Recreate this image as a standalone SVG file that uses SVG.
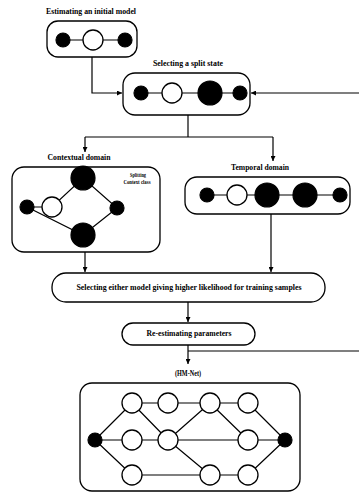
<svg xmlns="http://www.w3.org/2000/svg" width="359" height="494" viewBox="0 0 359 494">
<defs>
<style>
.box{fill:none;stroke:#000;stroke-width:1.3}
.ln{fill:none;stroke:#000;stroke-width:1.2}
.f{fill:#000;stroke:#000;stroke-width:1.2}
.o{fill:#fff;stroke:#000;stroke-width:1.3}
.t{font-family:"Liberation Serif","Times New Roman",serif;font-weight:bold;font-size:7.5px;fill:#000;text-anchor:middle}
.s{font-size:6px}
</style>
<marker id="ah" viewBox="0 0 10 10" refX="10" refY="5" markerWidth="5" markerHeight="5" orient="auto" markerUnits="userSpaceOnUse">
<path d="M0,0 L10,5 L0,10 z" fill="#000"/>
</marker>
</defs>
<rect width="359" height="494" fill="#fff"/>

<g id="connectors">
<path class="ln" d="M92,57 V93 H122" marker-end="url(#ah)"/>
<path class="ln" d="M359,93 H251" marker-end="url(#ah)"/>
<path class="ln" d="M188,115 V137"/>
<path class="ln" d="M85,137 H273"/>
<path class="ln" d="M85,137 V152" marker-end="url(#ah)"/>
<path class="ln" d="M273,137 V161" marker-end="url(#ah)"/>
<path class="ln" d="M85,252 V272" marker-end="url(#ah)"/>
<path class="ln" d="M271,214 V272" marker-end="url(#ah)"/>
<path class="ln" d="M188,302 V322" marker-end="url(#ah)"/>
<path class="ln" d="M188,345 V364" marker-end="url(#ah)"/>
<path class="ln" d="M188,351 H359"/>
</g>

<g id="initial-model">
<text class="t" x="91" y="14" textLength="90" lengthAdjust="spacingAndGlyphs">Estimating an initial model</text>
<rect class="box" x="47" y="21" width="90" height="36" rx="11"/>
<line class="ln" x1="63" y1="40" x2="125" y2="40"/>
<circle class="f" cx="63" cy="40" r="7"/>
<circle class="o" cx="93" cy="40" r="10"/>
<circle class="f" cx="125" cy="40" r="7"/>
</g>

<g id="split-state">
<text class="t" x="188" y="66" textLength="70" lengthAdjust="spacingAndGlyphs">Selecting a split state</text>
<rect class="box" x="123" y="73" width="127" height="42" rx="12"/>
<line class="ln" x1="141" y1="93" x2="240" y2="93"/>
<circle class="f" cx="141" cy="93" r="7"/>
<circle class="o" cx="172" cy="93" r="10"/>
<circle class="f" cx="210" cy="93" r="12"/>
<circle class="f" cx="240" cy="93" r="7"/>
</g>

<g id="contextual">
<text class="t" x="79" y="160" textLength="63" lengthAdjust="spacingAndGlyphs">Contextual domain</text>
<rect class="box" x="12" y="167" width="148" height="85" rx="12"/>
<path class="ln" d="M27,207 H52 L83,178 L117,208 L83,235 Z"/>
<circle class="f" cx="27" cy="207" r="7"/>
<circle class="o" cx="52" cy="207" r="10"/>
<circle class="f" cx="83" cy="178" r="12"/>
<circle class="f" cx="83" cy="235" r="12"/>
<circle class="f" cx="117" cy="208" r="7"/>
<text class="t s" x="138" y="177" textLength="16" lengthAdjust="spacingAndGlyphs">Splitting</text>
<text class="t s" x="137" y="184" textLength="27" lengthAdjust="spacingAndGlyphs">Context class</text>
</g>

<g id="temporal">
<text class="t" x="260" y="170" textLength="58" lengthAdjust="spacingAndGlyphs">Temporal domain</text>
<rect class="box" x="185" y="177" width="165" height="37" rx="12"/>
<line class="ln" x1="207" y1="195" x2="340" y2="195"/>
<circle class="f" cx="207" cy="195" r="7"/>
<circle class="o" cx="237" cy="195" r="10"/>
<circle class="f" cx="267" cy="195" r="12"/>
<circle class="f" cx="305" cy="195" r="12"/>
<circle class="f" cx="340" cy="195" r="7"/>
</g>

<g id="select-model">
<rect class="box" x="52" y="273" width="273" height="29" rx="14"/>
<text class="t" x="189" y="290" textLength="225" lengthAdjust="spacingAndGlyphs">Selecting either model giving higher likelihood for training samples</text>
</g>

<g id="reestimate">
<rect class="box" x="122" y="323" width="133" height="22" rx="11"/>
<text class="t" x="189" y="336" textLength="85" lengthAdjust="spacingAndGlyphs">Re-estimating parameters</text>
</g>

<g id="hmnet">
<text class="t" x="188" y="376" textLength="26" lengthAdjust="spacingAndGlyphs">(HM-Net)</text>
<rect class="box" x="80" y="383" width="220" height="108" rx="12"/>
<g class="ln">
<path d="M95,440 L132,403 M95,440 H132 M95,440 L132,475"/>
<path d="M132,403 H168 M132,403 L168,440 M132,440 H168 M132,475 H210"/>
<path d="M168,403 H210 M168,440 L210,403 M168,440 H248 M168,440 L210,475"/>
<path d="M210,403 H248 M210,403 L248,440 M210,475 H248"/>
<path d="M248,403 L285,440 M248,440 H285 M248,475 L285,440"/>
</g>
<circle class="f" cx="95" cy="440" r="7"/>
<circle class="o" cx="132" cy="403" r="10"/>
<circle class="o" cx="132" cy="440" r="10"/>
<circle class="o" cx="132" cy="475" r="10"/>
<circle class="o" cx="168" cy="403" r="10"/>
<circle class="o" cx="168" cy="440" r="10"/>
<circle class="o" cx="210" cy="403" r="10"/>
<circle class="o" cx="210" cy="475" r="10"/>
<circle class="o" cx="248" cy="403" r="10"/>
<circle class="o" cx="248" cy="440" r="10"/>
<circle class="o" cx="248" cy="475" r="10"/>
<circle class="f" cx="285" cy="440" r="7"/>
</g>
</svg>
